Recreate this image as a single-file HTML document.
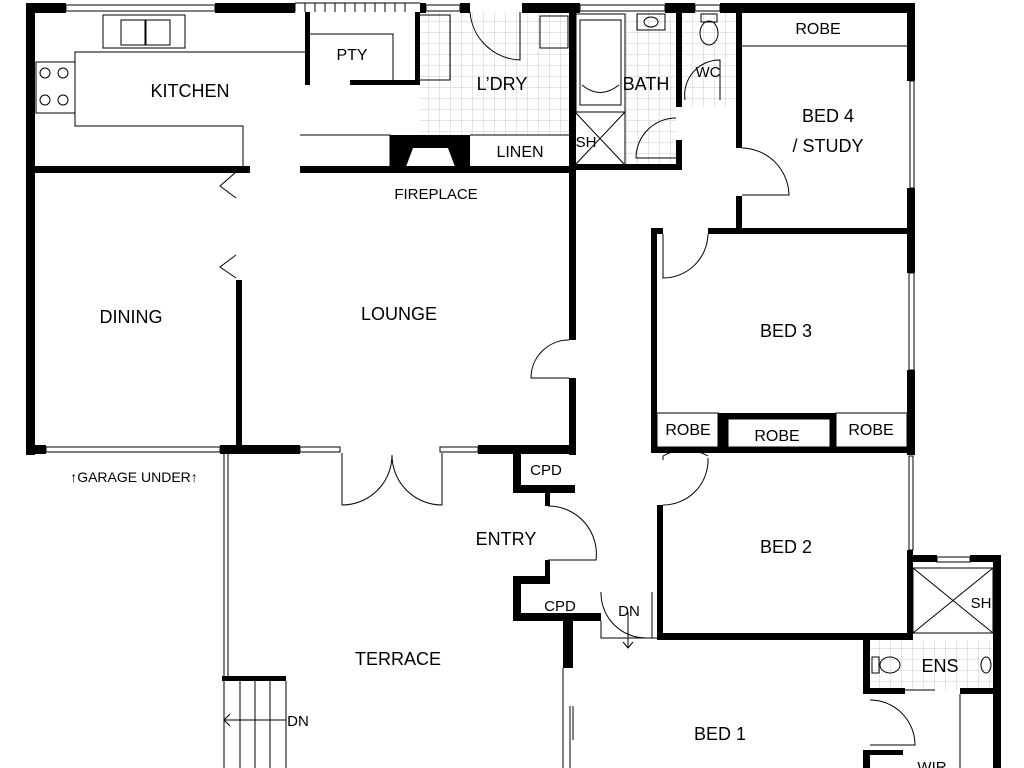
<!DOCTYPE html>
<html><head><meta charset="utf-8"><style>
html,body{margin:0;padding:0;background:#fff;}
svg{display:block}
text{font-family:"Liberation Sans",sans-serif;fill:#000}
</style></head><body>
<svg width="1024" height="768" viewBox="0 0 1024 768" xmlns="http://www.w3.org/2000/svg">
<defs>
<pattern id="tile" width="11" height="11" patternUnits="userSpaceOnUse"><path d="M11 0V11H0" fill="none" stroke="#bbb" stroke-width="0.8"/></pattern>
</defs>
<rect x="420" y="12" width="150" height="123" fill="url(#tile)"/>
<rect x="625" y="12" width="51" height="152" fill="url(#tile)"/>
<rect x="682" y="12" width="54" height="95" fill="url(#tile)"/>
<rect x="870" y="640" width="123" height="50" fill="url(#tile)"/>
<g fill="#000">
<rect x="26" y="3" width="40" height="10"/>
<rect x="215" y="3" width="80" height="10"/>
<rect x="420" y="3" width="6" height="10"/>
<rect x="460" y="3" width="10" height="10"/>
<rect x="522" y="3" width="58" height="10"/>
<rect x="665" y="3" width="30" height="10"/>
<rect x="720" y="3" width="195" height="10"/>
<rect x="26" y="3" width="9" height="452"/>
<rect x="26" y="166" width="224" height="7"/>
<rect x="300" y="166" width="276" height="7"/>
<rect x="236" y="280" width="6" height="168"/>
<rect x="26" y="445" width="20" height="9"/>
<rect x="220" y="445" width="80" height="9"/>
<rect x="478" y="445" width="40" height="9"/>
<rect x="569" y="3" width="7" height="337"/>
<rect x="569" y="378" width="7" height="77"/>
<rect x="513" y="445" width="62" height="9"/>
<rect x="513" y="445" width="8" height="48"/>
<rect x="513" y="485" width="62" height="8"/>
<rect x="545" y="493" width="5" height="13"/>
<rect x="545" y="560" width="5" height="17"/>
<rect x="513" y="576" width="37" height="8"/>
<rect x="513" y="576" width="8" height="45"/>
<rect x="513" y="613" width="88" height="8"/>
<rect x="563" y="613" width="10" height="55"/>
<rect x="305" y="12" width="5" height="73"/>
<rect x="350" y="80" width="70" height="5"/>
<rect x="415" y="12" width="5" height="73"/>
<path d="M390 135H470V172H457L448 148H413L404 172H390Z"/>
<rect x="676" y="12" width="6" height="95"/>
<rect x="736" y="3" width="6" height="145"/>
<rect x="736" y="196" width="6" height="38"/>
<rect x="575" y="164" width="107" height="6"/>
<rect x="676" y="140" width="6" height="30"/>
<rect x="907" y="3" width="8" height="78"/>
<rect x="907" y="188" width="8" height="45"/>
<rect x="651" y="228" width="12" height="6"/>
<rect x="708" y="228" width="207" height="6"/>
<rect x="651" y="228" width="6" height="225"/>
<rect x="907" y="228" width="8" height="45"/>
<rect x="907" y="370" width="8" height="85"/>
<rect x="651" y="447" width="264" height="6"/>
<rect x="718" y="413" width="10" height="40"/>
<rect x="728" y="413" width="102" height="6"/>
<rect x="830" y="413" width="6" height="40"/>
<rect x="657" y="505" width="6" height="135"/>
<rect x="657" y="633" width="250" height="7"/>
<rect x="907" y="550" width="6" height="90"/>
<rect x="907" y="555" width="30" height="7"/>
<rect x="970" y="555" width="31" height="7"/>
<rect x="993" y="555" width="8" height="213"/>
<rect x="863" y="640" width="7" height="52"/>
<rect x="863" y="688" width="42" height="6"/>
<rect x="960" y="688" width="33" height="6"/>
<rect x="863" y="750" width="7" height="18"/>
<rect x="863" y="750" width="40" height="5"/>
<rect x="222" y="676" width="64" height="5"/>
</g>
<g fill="none" stroke="#000" stroke-width="1">
<rect x="66" y="5" width="149" height="6"/>
<rect x="426" y="5" width="34" height="6"/>
<rect x="580" y="5" width="85" height="6"/>
<rect x="695" y="5" width="25" height="6"/>
<path d="M295 3V12M305 3V12M315 3V12M325 3V12M335 3V12M345 3V12M355 3V12M365 3V12M375 3V12M385 3V12M395 3V12M405 3V12"/>
<path d="M295 3H420"/>
<rect x="46" y="447" width="174" height="5"/>
<rect x="300" y="447" width="40" height="5"/>
<rect x="440" y="447" width="38" height="5"/>
<rect x="910" y="81" width="4" height="107"/>
<rect x="909" y="273" width="5" height="97"/>
<rect x="909" y="456" width="4" height="94"/>
<rect x="937" y="557" width="33" height="5"/>
<path d="M305 52H75V126H243V166"/>
<rect x="36" y="62" width="39" height="51"/>
<circle cx="45" cy="73" r="5"/><circle cx="63" cy="73" r="5"/><circle cx="45" cy="100" r="5"/><circle cx="63" cy="100" r="5"/>
<rect x="103" y="15" width="82" height="33"/>
<rect x="121" y="20" width="24" height="25"/><rect x="146" y="20" width="24" height="25"/>
<path d="M310 34H393V80M300 135H390V166M420 15H450V80H420"/>
<rect x="540" y="16" width="28" height="32"/>
<path d="M470 12A52 52 0 0 0 520 60V12"/>
<path d="M470 135H569"/>
<rect x="576" y="14" width="49" height="98"/>
<path d="M580 20V105H621V20ZM582 85Q600 100 619 85"/>
<rect x="575" y="112" width="50" height="53"/>
<path d="M575 112L625 165M625 112L575 165"/>
<rect x="637" y="14" width="28" height="16"/>
<ellipse cx="651" cy="22" rx="7" ry="5"/>
<path d="M676 118A40 40 0 0 0 636 158H676"/>
<ellipse cx="709" cy="33" rx="9" ry="12"/>
<rect x="701" y="14" width="16" height="8"/>
<path d="M685 100A35 35 0 0 1 720 60V100"/>
<path d="M742 46H907"/>
<path d="M742 148A48 48 0 0 1 789 195H742"/>
<path d="M663 234V278A45 45 0 0 0 708 234"/>
<rect x="657" y="413" width="61" height="34"/>
<rect x="836" y="413" width="71" height="34"/>
<rect x="728" y="419" width="102" height="28"/>
<path d="M569 340A38 38 0 0 0 531 378H569"/>
<path d="M236 172L220 186L236 198M236 255L220 267L236 278"/>
<path d="M342 453V505A50 50 0 0 0 392 455A50 50 0 0 0 442 505V453"/>
<path d="M548 506A48 48 0 0 1 596 560H548"/>
<path d="M663 456A45 45 0 0 1 708 456M663 456V460M708 458A45 45 0 0 1 663 505"/>
<path d="M601 621V638H657M601 592A45 45 0 0 0 646 638M652 592V638M628 612V648M623 642L628 648L633 642"/>
<path d="M224 452V676M228 452V676"/>
<path d="M224 681V768M240 681V768M255 681V768M270 681V768M286 681V768M224 720H286M224 720L230 714M224 720L230 726"/>
<path d="M563 668V768M570 706V768M573 706V740"/>
<rect x="913" y="568" width="80" height="65"/>
<path d="M913 568L993 633M993 568L913 633"/>
<ellipse cx="890" cy="665" rx="10" ry="8"/>
<rect x="872" y="657" width="7" height="16"/>
<ellipse cx="986" cy="665" rx="5" ry="8"/>
<path d="M870 700A45 45 0 0 1 915 745H870M960 694V768M905 690H935"/>
</g>
<g font-size="18" text-anchor="middle">
<text x="190" y="97">KITCHEN</text>
<text x="352" y="60" font-size="16">PTY</text>
<text x="502" y="90">L’DRY</text>
<text x="646" y="90">BATH</text>
<text x="708" y="77" font-size="15">WC</text>
<text x="818" y="34" font-size="16">ROBE</text>
<text x="828" y="122">BED 4</text>
<text x="828" y="152">/ STUDY</text>
<text x="586" y="147" font-size="15">SH</text>
<text x="520" y="157" font-size="16">LINEN</text>
<text x="436" y="199" font-size="15">FIREPLACE</text>
<text x="131" y="323">DINING</text>
<text x="399" y="320">LOUNGE</text>
<text x="786" y="337">BED 3</text>
<text x="688" y="435" font-size="16">ROBE</text>
<text x="777" y="441" font-size="16">ROBE</text>
<text x="871" y="435" font-size="16">ROBE</text>
<text x="134" y="482" font-size="14">↑GARAGE UNDER↑</text>
<text x="546" y="475" font-size="15">CPD</text>
<text x="506" y="545">ENTRY</text>
<text x="560" y="611" font-size="15">CPD</text>
<text x="629" y="616" font-size="15">DN</text>
<text x="786" y="553">BED 2</text>
<text x="981" y="608" font-size="15">SH</text>
<text x="940" y="672">ENS</text>
<text x="398" y="665">TERRACE</text>
<text x="298" y="726" font-size="15">DN</text>
<text x="720" y="740">BED 1</text>
<text x="932" y="772" font-size="15">WIR</text>
</g>
</svg>
</body></html>
